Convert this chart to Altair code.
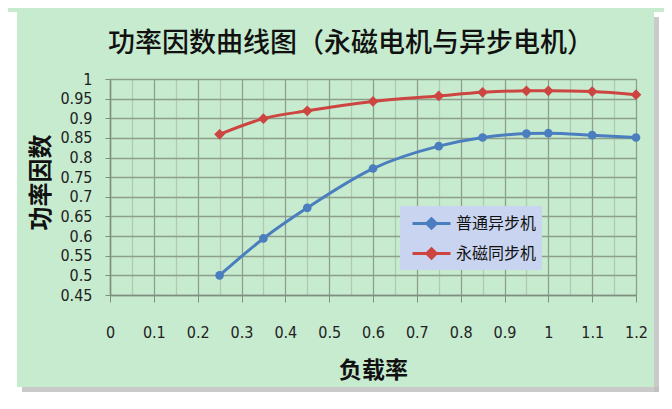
import altair as alt
import pandas as pd

load = [0.25, 0.35, 0.45, 0.6, 0.75, 0.85, 0.95, 1.0, 1.1, 1.2]
induction = [0.50, 0.594, 0.672, 0.772, 0.829, 0.851, 0.861, 0.862, 0.857, 0.851]
pm_sync = [0.859, 0.899, 0.919, 0.943, 0.957, 0.966, 0.970, 0.970, 0.968, 0.960]
series_names = ["普通异步机", "永磁同步机"]
series_colors = ["#4a7ebe", "#cc4540"]
x_ticks = [0, 0.05, 0.1, 0.15, 0.2, 0.25, 0.3, 0.35, 0.4, 0.45, 0.5, 0.55, 0.6,
           0.65, 0.7, 0.75, 0.8, 0.85, 0.9, 0.95, 1.0, 1.05, 1.1, 1.15, 1.2]
y_ticks = [0.45, 0.5, 0.55, 0.6, 0.65, 0.7, 0.75, 0.8, 0.85, 0.9, 0.95, 1.0]

rows = []
for x, a, b in zip(load, induction, pm_sync):
    rows.append({"load": x, "pf": a, "series": series_names[0]})
    rows.append({"load": x, "pf": b, "series": series_names[1]})
df = pd.DataFrame(rows)

W, H = 526, 216
GREEN = "#c7ebcf"
NUM_FONT = "Liberation Sans Narrow, DejaVu Sans Condensed, Liberation Sans, sans-serif"
CJK = "Noto Sans CJK SC"

major = "abs(datum.value*10 - round(datum.value*10)) < 0.001"

xscale = alt.Scale(domain=[0, 1.2], nice=False, zero=False)
yscale = alt.Scale(domain=[0.45, 1.0], nice=False, zero=False)
cscale = alt.Scale(domain=series_names, range=series_colors)

legend_symbol = "M-1.6,0L1.6,0M0,-0.4L0.4,0L0,0.4L-0.4,0Z"
leg = alt.Legend(
    orient="none", legendX=290, legendY=127, title=None,
    symbolType=legend_symbol, symbolSize=564, symbolStrokeWidth=3,
    symbolOffset=14, labelOffset=11, rowPadding=5, padding=4,
    labelFont=CJK, labelFontSize=16, labelColor="#111111",
    fillColor="#c9d5f0", strokeColor="#c9d5f0",
)

xaxis = alt.Axis(
    title="负载率", titleFont=CJK, titleFontSize=23, titleFontWeight="bold",
    titleColor="#111111", titleY=75, titleBaseline="middle",
    values=x_ticks, format=".2~f",
    labelExpr=f"({major}) ? format(datum.value, '.2~f') : ''",
    labelFont=NUM_FONT, labelFontSize=16, labelColor="#222222",
    labelPadding=22, tickSize=7, labelOverlap=False,
    tickColor="#7f8f7f",
    tickOpacity={"condition": {"test": major, "value": 1}, "value": 0},
    gridColor={"condition": {"test": major, "value": "#8d9e8d"}, "value": "#b3c8b3"},
    gridWidth=1.3, domainColor="#7f8f7f", domainWidth=1.5, labelFlush=False,
)
yaxis = alt.Axis(
    title="功率因数", titleFont=CJK, titleFontSize=24, titleFontWeight="bold",
    titleColor="#111111", titleX=-69, titleY=103, titleAngle=270,
    titleAlign="center", titleBaseline="middle",
    values=y_ticks, format=".2~f", labelOverlap=False,
    labelExpr="format(datum.value, '.2~f')",
    labelFont=NUM_FONT, labelFontSize=16, labelColor="#222222",
    labelPadding=13, tickSize=5, tickColor="#7f8f7f",
    gridColor="#8d9e8d", gridWidth=1.3, domainColor="#7f8f7f", domainWidth=1.5,
)

base = alt.Chart(df)
lines = base.mark_line(interpolate="monotone", strokeWidth=3).encode(
    x=alt.X("load:Q", scale=xscale, axis=xaxis),
    y=alt.Y("pf:Q", scale=yscale, axis=yaxis),
    stroke=alt.Stroke("series:N", scale=cscale, legend=leg),
)
pts_blue = base.transform_filter(alt.datum.series == series_names[0]).mark_point(
    filled=True, opacity=1, size=75, shape="circle").encode(
    x=alt.X("load:Q", scale=xscale, axis=xaxis),
    y=alt.Y("pf:Q", scale=yscale, axis=yaxis),
    fill=alt.Fill("series:N", scale=cscale, legend=leg),
)
pts_red = base.transform_filter(alt.datum.series == series_names[1]).mark_point(
    filled=True, opacity=1, size=115, shape="diamond").encode(
    x=alt.X("load:Q", scale=xscale, axis=xaxis),
    y=alt.Y("pf:Q", scale=yscale, axis=yaxis),
    fill=alt.Fill("series:N", scale=cscale, legend=leg),
)

one = alt.Data(values=[{}])
def band(x1, x2, y1, y2, color, op=1.0):
    return alt.Chart(one).mark_rect(color=color, opacity=op).encode(
        x=alt.value(x1), x2=alt.value(x2), y=alt.value(y1), y2=alt.value(y2))

frame = [
    band(-102, W + 28, H + 92, H + 106, "white"),
    band(W + 18, W + 28, -67, H + 106, "white"),
    band(-102, -93, -67, H + 106, "white"),
    band(W + 18, W + 23, -62, H + 97, "#bdbdbd", 0.8),
    band(-88, W + 23, H + 92, H + 97, "#bdbdbd", 0.8),
]

chart = alt.layer(*frame, lines, pts_blue, pts_red).properties(
    width=W, height=H,
    title=alt.TitleParams("功率因数曲线图（永磁电机与异步电机）", font=CJK, fontSize=27,
                          fontWeight=500, color="#111111", anchor="start", frame="group",
                          dx=-2, offset=-46),
    autosize=alt.AutoSizeParams(type="none"),
    padding={"left": 102, "top": 71, "right": 28, "bottom": 106},
    background=GREEN,
).configure_view(stroke=None).configure_axis(labelOverlap=False)

chart.save("out.html", embed_options={"renderer": "svg", "actions": False})
